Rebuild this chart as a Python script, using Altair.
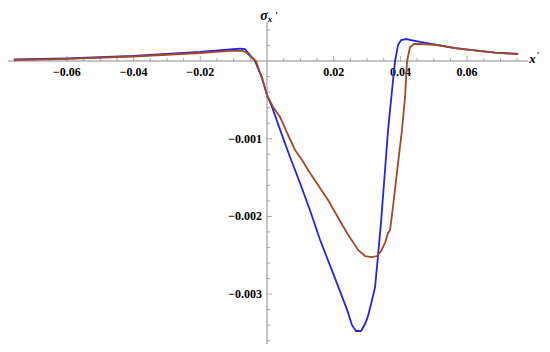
import altair as alt
import pandas as pd

# ---- data ----
blue_x = [-0.0759, -0.0600, -0.0402, -0.0201, -0.0111, -0.0081, -0.0066, -0.0051,
          -0.0036, -0.0015, 0.0000, 0.0015, 0.0048, 0.0069, 0.0099, 0.0129, 0.0159,
          0.0198, 0.0240, 0.0255, 0.0267, 0.0282, 0.0294, 0.0303, 0.0315, 0.0324,
          0.0333, 0.0342, 0.0354, 0.0363, 0.0375, 0.0384, 0.0393, 0.0402, 0.0417,
          0.0432, 0.0459, 0.0510, 0.0564, 0.0609, 0.0684, 0.0753]
blue_y = [0.000019, 0.000032, 0.000064, 0.000116, 0.000148, 0.000158, 0.000154, 0.000077,
          0.0, -0.000219, -0.000438, -0.000592, -0.00099, -0.001236, -0.00157, -0.00192,
          -0.0023, -0.00273, -0.0032, -0.0034, -0.003475, -0.003475, -0.003385, -0.00328,
          -0.003076, -0.00291, -0.00250, -0.00207, -0.0014, -0.00089, -0.000373, 0.0,
          0.000206, 0.00027, 0.000283, 0.00027, 0.000245, 0.000206, 0.000167, 0.000142,
          0.000109, 0.00009]

red_x = [-0.0759, -0.0600, -0.0402, -0.0201, -0.0111, -0.0072, -0.0060, -0.0048,
         -0.0033, -0.0015, 0.0000, 0.0018, 0.0039, 0.0063, 0.0084, 0.0105, 0.0129,
         0.0159, 0.0183, 0.0207, 0.0240, 0.0273, 0.0294, 0.0315, 0.0330, 0.0342,
         0.0354, 0.0363, 0.0369, 0.0381, 0.0393, 0.0405, 0.0414, 0.0420, 0.0429,
         0.0441, 0.0459, 0.0510, 0.0564, 0.0609, 0.0684, 0.0753]
red_y = [0.000013, 0.000026, 0.000058, 0.000103, 0.000129, 0.000129, 0.000103, 0.000051,
         0.0, -0.000219, -0.000438, -0.000592, -0.00072, -0.00095, -0.001145, -0.001274,
         -0.00144, -0.001634, -0.001789, -0.001969, -0.002214, -0.002432, -0.00251,
         -0.002523, -0.00251, -0.002445, -0.00234, -0.002214, -0.00218, -0.00176,
         -0.00131, -0.00088, -0.000463, 0.0, 0.00018, 0.000219, 0.000219, 0.000206,
         0.000167, 0.000142, 0.000109, 0.00009]

x_major = [-0.06, -0.04, -0.02, 0.02, 0.04, 0.06]
x_labels = ["\u22120.06", "\u22120.04", "\u22120.02", "0.02", "0.04", "0.06"]
y_major = [-0.001, -0.002, -0.003]
y_labels = ["\u22120.001", "\u22120.002", "\u22120.003"]
x_minor = [round(-0.075 + 0.005 * i, 4) for i in range(31)]
x_minor = [v for v in x_minor if abs(v) > 1e-9 and all(abs(v - m) > 1e-9 for m in x_major)]
y_minor = [round(-0.0036 + 0.0002 * i, 5) for i in range(21)]
y_minor = [v for v in y_minor if abs(v) > 1e-12 and all(abs(v - m) > 1e-9 for m in y_major)]

x_extent = [-0.0776, 0.0783]
y_extent = [-0.00368, 0.0005]

W, H = 534, 336
xs = alt.Scale(domain=[-0.07766, 0.08246], nice=False, zero=False)
ys = alt.Scale(domain=[-0.003642, 0.000682], nice=False, zero=False)

AX = "#8a8a8a"
FONT = "Liberation Serif"

rows = []
for i, (a, b) in enumerate(zip(blue_x, blue_y)):
    rows.append({"x": a, "y": b, "s": "blue", "i": i})
for i, (a, b) in enumerate(zip(red_x, red_y)):
    rows.append({"x": a, "y": b, "s": "red", "i": i})
df = pd.DataFrame(rows)

axes_df = pd.DataFrame([
    {"x": x_extent[0], "x2": x_extent[1], "y": 0.0, "y2": 0.0},
    {"x": 0.0, "x2": 0.0, "y": y_extent[0], "y2": y_extent[1]},
])
axes = alt.Chart(axes_df).mark_rule(color=AX, strokeWidth=1).encode(
    x=alt.X("x:Q", scale=xs, axis=None), x2="x2:Q",
    y=alt.Y("y:Q", scale=ys, axis=None), y2="y2:Q")

xt_major = alt.Chart(pd.DataFrame({"x": x_major, "y": [0.0] * len(x_major)})).mark_tick(
    orient="vertical", size=5, thickness=1, yOffset=-2.5, color=AX).encode(
    x=alt.X("x:Q", scale=xs, axis=None), y=alt.Y("y:Q", scale=ys, axis=None))
xt_minor = alt.Chart(pd.DataFrame({"x": x_minor, "y": [0.0] * len(x_minor)})).mark_tick(
    orient="vertical", size=3, thickness=1, yOffset=-1.5, color=AX).encode(
    x=alt.X("x:Q", scale=xs, axis=None), y=alt.Y("y:Q", scale=ys, axis=None))
yt_major = alt.Chart(pd.DataFrame({"y": y_major, "x": [0.0] * len(y_major)})).mark_tick(
    orient="horizontal", size=5, thickness=1, xOffset=2.5, color=AX).encode(
    x=alt.X("x:Q", scale=xs, axis=None), y=alt.Y("y:Q", scale=ys, axis=None))
yt_minor = alt.Chart(pd.DataFrame({"y": y_minor, "x": [0.0] * len(y_minor)})).mark_tick(
    orient="horizontal", size=3, thickness=1, xOffset=1.5, color=AX).encode(
    x=alt.X("x:Q", scale=xs, axis=None), y=alt.Y("y:Q", scale=ys, axis=None))

xlab = alt.Chart(pd.DataFrame({"x": x_major, "y": [0.0] * len(x_major), "t": x_labels})).mark_text(
    font=FONT, fontWeight="bold", fontSize=12, dy=11, baseline="middle", align="center",
    color="black").encode(
    x=alt.X("x:Q", scale=xs, axis=None), y=alt.Y("y:Q", scale=ys, axis=None), text="t:N")
ylab = alt.Chart(pd.DataFrame({"y": y_major, "x": [0.0] * len(y_major), "t": y_labels})).mark_text(
    font=FONT, fontWeight="bold", fontSize=12, dx=-5, baseline="middle", align="right",
    color="black").encode(
    x=alt.X("x:Q", scale=xs, axis=None), y=alt.Y("y:Q", scale=ys, axis=None), text="t:N")

title_df = pd.DataFrame([
    {"x": 0.0786, "y": 0.00003, "t": "x", "sz": 13},
    {"x": 0.0807, "y": 0.00006, "t": "'", "sz": 10},
    {"x": -0.0020, "y": 0.000585, "t": "\u03c3", "sz": 14},
    {"x": 0.0002, "y": 0.00054, "t": "x", "sz": 9},
    {"x": 0.0023, "y": 0.000579, "t": "'", "sz": 10},
])
titles = alt.Chart(title_df).mark_text(
    font=FONT, fontWeight="bold", fontStyle="italic", baseline="middle", align="left",
    color="black").encode(
    x=alt.X("x:Q", scale=xs, axis=None), y=alt.Y("y:Q", scale=ys, axis=None), text="t:N",
    size=alt.Size("sz:Q", scale=None, legend=None))

lines = alt.Chart(df).mark_line(strokeWidth=1.8, clip=True).encode(
    x=alt.X("x:Q", scale=xs, axis=None),
    y=alt.Y("y:Q", scale=ys, axis=None),
    color=alt.Color("s:N", scale=alt.Scale(domain=["blue", "red"], range=["#2a22dc", "#a24a25"]),
                    legend=None),
    order="i:Q",
    detail="s:N")

chart = alt.layer(axes, xt_minor, xt_major, yt_minor, yt_major, xlab, ylab, titles, lines).properties(
    width=W, height=H, autosize=alt.AutoSizeParams(type="none"), padding=0,
    background="white"
).configure_view(stroke=None)

chart.save("out.html", embed_options={"renderer": "svg", "actions": False})
